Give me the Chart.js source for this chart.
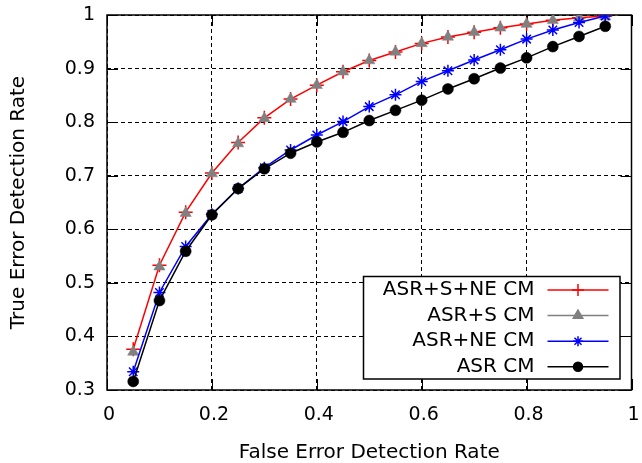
<!DOCTYPE html>
<html><head><meta charset="utf-8">
<script src="https://cdn.jsdelivr.net/npm/chart.js@4/dist/chart.umd.min.js"></script>
<style>html,body{margin:0;padding:0;background:#fff}</style>
</head><body>
<canvas id="c" width="642" height="463"></canvas>
<script>
// ---- data ----
const falseRate = [0.05,0.10,0.15,0.20,0.25,0.30,0.35,0.40,0.45,0.50,0.55,0.60,0.65,0.70,0.75,0.80,0.85,0.90,0.95];
const asrSNE = [0.376,0.533,0.632,0.705,0.762,0.808,0.843,0.869,0.894,0.915,0.931,0.947,0.959,0.968,0.976,0.983,0.990,0.995,0.998];
const asrS   = [0.371,0.530,0.630,0.704,0.760,0.807,0.843,0.869,0.894,0.915,0.931,0.947,0.959,0.968,0.976,0.983,0.990,0.995,0.997];
const asrNE  = [0.334,0.482,0.568,0.628,0.676,0.715,0.748,0.776,0.801,0.829,0.851,0.876,0.896,0.916,0.935,0.955,0.972,0.986,0.998];
const asr    = [0.316,0.467,0.559,0.627,0.676,0.713,0.742,0.763,0.781,0.803,0.822,0.841,0.862,0.881,0.901,0.920,0.941,0.960,0.979];
const seriesLabels = ['ASR+S+NE CM','ASR+S CM','ASR+NE CM','ASR CM'];
const xTickValues = [0,0.2,0.4,0.6,0.8,1];
const yTickValues = [0.3,0.4,0.5,0.6,0.7,0.8,0.9,1];
const xTitle = 'False Error Detection Rate';
const yTitle = 'True Error Detection Rate';

const toPts = arr => arr.map((v,i)=>({x:falseRate[i], y:v}));
const FONT = '"DejaVu Sans", sans-serif';

const frame = {
  id:'frame',
  beforeDatasetsDraw(chart){
    const {ctx, chartArea:a, scales} = chart;
    ctx.save();
    ctx.strokeStyle='#000'; ctx.lineWidth=1; ctx.setLineDash([]);
    const L=11;
    ctx.beginPath();
    scales.x.ticks.forEach(t=>{
      const px=Math.round(scales.x.getPixelForValue(t.value))+0.5;
      ctx.moveTo(px,a.bottom); ctx.lineTo(px,a.bottom-L);
      ctx.moveTo(px,a.top); ctx.lineTo(px,a.top+L);
    });
    scales.y.ticks.forEach(t=>{
      const py=Math.round(scales.y.getPixelForValue(t.value))+0.5;
      ctx.moveTo(a.left,py); ctx.lineTo(a.left+L,py);
      ctx.moveTo(a.right,py); ctx.lineTo(a.right-L,py);
    });
    ctx.stroke();
    ctx.lineWidth=1.5;
    ctx.strokeRect(a.left,a.top,a.right-a.left,a.bottom-a.top);
    ctx.restore();
  }
};

const boxLegend = {
  id:'boxLegend',
  afterDraw(chart){
    const {ctx, chartArea:a} = chart;
    const x1=a.right-11.5, y1=a.bottom-11, x0=x1-256.5, y0=y1-102.5;
    ctx.save();
    ctx.setLineDash([]);
    ctx.fillStyle='#fff'; ctx.fillRect(x0,y0,x1-x0,y1-y0);
    ctx.strokeStyle='#000'; ctx.lineWidth=1.5; ctx.strokeRect(x0,y0,x1-x0,y1-y0);
    ctx.font='20px '+FONT; ctx.textAlign='right'; ctx.textBaseline='middle';
    chart.data.datasets.forEach((ds,i)=>{
      const y=y0+13.5+i*25.6;
      ctx.fillStyle='#000';
      ctx.fillText(ds.label, x0+171, y);
      ctx.strokeStyle=ds.borderColor; ctx.lineWidth=1.5;
      ctx.beginPath(); ctx.moveTo(x0+184,y); ctx.lineTo(x0+245,y); ctx.stroke();
      ctx.fillStyle=ds.pointBackgroundColor; ctx.strokeStyle=ds.pointBorderColor;
      Chart.helpers.drawPoint(ctx,{pointStyle:ds.pointStyle,radius:ds.pointRadius-1,rotation:0,borderWidth:ds.pointBorderWidth},x0+214.5,y);
    });
    ctx.restore();
  }
};

new Chart(document.getElementById('c'),{
  type:'line',
  data:{datasets:[
    {label:seriesLabels[0],data:toPts(asrSNE),borderColor:'#ff0000',borderWidth:1.5,pointStyle:'cross',pointRadius:7,pointBorderWidth:1.5,pointBorderColor:'#ff0000',pointBackgroundColor:'#ff0000',order:3},
    {label:seriesLabels[1],data:toPts(asrS),borderColor:'#808080',borderWidth:1.5,showLine:false,pointStyle:'triangle',pointRadius:6.5,pointBorderWidth:0.5,pointBorderColor:'#808080',pointBackgroundColor:'#808080',order:2},
    {label:seriesLabels[2],data:toPts(asrNE),borderColor:'#0000ff',borderWidth:1.5,pointStyle:'star',pointRadius:6,pointBorderWidth:1.5,pointBorderColor:'#0000ff',pointBackgroundColor:'#0000ff',order:1},
    {label:seriesLabels[3],data:toPts(asr),borderColor:'#000000',borderWidth:1.5,pointStyle:'circle',pointRadius:5.5,pointBorderWidth:0.5,pointBorderColor:'#000000',pointBackgroundColor:'#000000',order:0}
  ]},
  options:{
    responsive:false, animation:false,
    layout:{padding:{top:15,right:10.5,bottom:0,left:0}},
    plugins:{legend:{display:false},tooltip:{enabled:false}},
    elements:{line:{tension:0}},
    scales:{
      x:{type:'linear',min:0,max:1,
        afterBuildTicks:s=>{s.ticks=xTickValues.map(v=>({value:v}));},
        afterFit:s=>{s.height=73;s.paddingLeft=0;s.paddingRight=0;s.paddingTop=0;s.paddingBottom=0;},
        ticks:{color:'#000',font:{family:FONT,size:19},padding:14,labelOffset:2,maxRotation:0,callback:v=>String(+v.toFixed(1))},
        grid:{color:'#000',lineWidth:1,drawTicks:false},
        border:{display:false,dash:[4,3]},
        title:{display:true,text:xTitle,color:'#000',font:{family:FONT,size:20,lineHeight:1},padding:{top:0,bottom:0.5}}
      },
      y:{type:'linear',min:0.3,max:1,
        afterBuildTicks:s=>{s.ticks=yTickValues.map(v=>({value:v}));},
        afterFit:s=>{s.width=107;s.paddingLeft=0;s.paddingRight=0;s.paddingTop=0;s.paddingBottom=0;},
        ticks:{color:'#000',font:{family:FONT,size:19},padding:12,callback:v=>String(+v.toFixed(1))},
        grid:{color:'#000',lineWidth:1,drawTicks:false},
        border:{display:false,dash:[4,3]},
        title:{display:true,text:yTitle,color:'#000',font:{family:FONT,size:20,lineHeight:1},padding:{top:9,bottom:0}}
      }
    }
  },
  plugins:[frame,boxLegend]
});
</script>
</body></html>
